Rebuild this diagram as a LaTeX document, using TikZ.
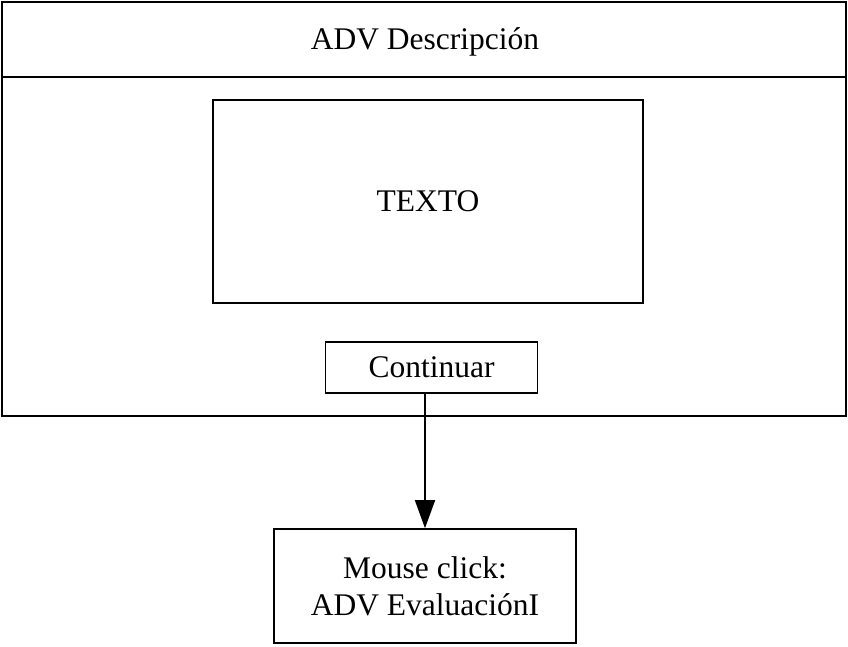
\documentclass[tikz,border=0pt]{standalone}
\usepackage{fontspec}
\setmainfont{Liberation Serif}
\usetikzlibrary{arrows.meta,positioning}

\begin{document}
\begin{tikzpicture}[
      x=1pt, y=-1pt,
      every node/.style={font=\fontsize{31.5}{37}\selectfont},
      framebox/.style={
        rectangle, draw, line width=2pt, inner sep=0pt,
        minimum width=844pt, minimum height=414pt
      },
      panelbox/.style={
        rectangle, draw, line width=1.6pt, inner sep=0pt,
        align=center
      },
      arr/.style={-{Triangle[length=28pt, width=20pt]}, line width=1.6pt}
    ]
    \useasboundingbox (0,0) rectangle (848,646);

    % ===== Screen frame with its title bar =====
    \node[framebox] (frame) at (424, 209) {};
    \node (title) at (425, 42) {ADV Descripción};
    \coordinate (barleft) at (2, 77);
    \draw[line width=1.6pt] (barleft) -- (barleft -| frame.east);

    % ===== Contents of the screen =====
    \node[panelbox, minimum width=430pt, minimum height=203pt] (texto)
      at (428, 201.5) {TEXTO};
    \node[panelbox, minimum width=212pt, minimum height=51pt] (cont)
      at (431.5, 367.5) {Continuar};

    % ===== Target of the click =====
    \node[panelbox, minimum width=302pt, minimum height=114pt] (click)
      at (425, 586) {Mouse click:\\ADV EvaluaciónI};

    % ===== Arrow =====
    \draw[arr] (click.north |- cont.south) -- (click.north);
  \end{tikzpicture}
\end{document}
